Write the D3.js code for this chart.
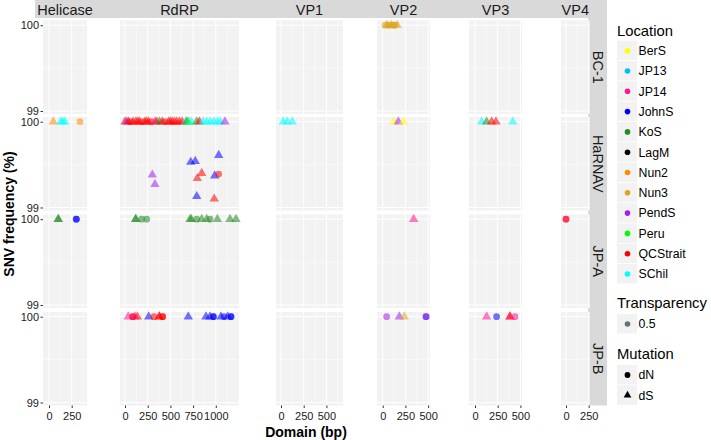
<!DOCTYPE html>
<html>
<head>
<meta charset="utf-8">
<script src="https://cdn.jsdelivr.net/npm/d3@7"></script>
<style>
  body { margin: 0; background: #fff; }
  text { font-family: "Liberation Sans", Arial, sans-serif; }
</style>
</head>
<body>
<svg id="chart" width="711" height="440"></svg>
<script>
// facets
const domains = ['Helicase', 'RdRP', 'VP1', 'VP2', 'VP3', 'VP4'];
const viruses = ['BC-1', 'HaRNAV', 'JP-A', 'JP-B'];
const xDomains = [[-66, 418], [-55, 1255], [-55, 683], [-63, 521], [-66, 518], [-55, 260]];
const xTicks = [[0, 250], [0, 250, 500, 750, 1000], [0, 250, 500], [0, 250, 500], [0, 250, 500], [0, 250]];
const yTicks = [99, 100];
const yDomain = [98.965, 100.055];

const locations = ['BerS', 'JP13', 'JP14', 'JohnS', 'KoS', 'LagM', 'Nun2', 'Nun3', 'PendS', 'Peru', 'QCStrait', 'SChil'];
const locColors = ['#FFFF00', '#00BFFF', '#FF1493', '#0000FF', '#228B22', '#000000', '#FF8C00', '#DAA520', '#A020F0', '#00FF00', '#FF0000', '#00FFFF'];
const mutations = ['dN', 'dS'];

// points: [domain, location, mutation, position (bp), SNV frequency (%)]
const bc1Points = [
  ['VP2', 'Nun3', 'dN', 25, 100], ['VP2', 'Nun3', 'dS', 45, 100], ['VP2', 'Nun3', 'dN', 70, 100],
  ['VP2', 'Nun3', 'dS', 95, 100], ['VP2', 'Nun3', 'dN', 115, 100], ['VP2', 'Nun3', 'dN', 140, 100],
  ['VP2', 'Nun3', 'dS', 160, 100], ['VP2', 'Nun3', 'dN', 60, 100], ['VP2', 'Nun3', 'dN', 125, 100]
];
const harnavPoints = [
  ['Helicase', 'Nun2', 'dS', 47, 100], ['Helicase', 'SChil', 'dS', 129, 100], ['Helicase', 'SChil', 'dS', 176, 100],
  ['Helicase', 'SChil', 'dS', 150, 100], ['Helicase', 'Nun2', 'dN', 341, 100],
  ['RdRP', 'QCStrait', 'dS', 0, 100], ['RdRP', 'PendS', 'dS', 20, 100], ['RdRP', 'QCStrait', 'dS', 40, 100],
  ['RdRP', 'QCStrait', 'dN', 60, 100], ['RdRP', 'QCStrait', 'dS', 90, 100], ['RdRP', 'QCStrait', 'dS', 120, 100],
  ['RdRP', 'QCStrait', 'dS', 140, 100], ['RdRP', 'QCStrait', 'dS', 160, 100], ['RdRP', 'QCStrait', 'dN', 190, 100],
  ['RdRP', 'QCStrait', 'dS', 220, 100], ['RdRP', 'QCStrait', 'dS', 240, 100], ['RdRP', 'QCStrait', 'dS', 260, 100],
  ['RdRP', 'QCStrait', 'dN', 290, 100], ['RdRP', 'JP14', 'dS', 330, 100], ['RdRP', 'QCStrait', 'dS', 350, 100],
  ['RdRP', 'KoS', 'dS', 380, 100], ['RdRP', 'QCStrait', 'dS', 410, 100], ['RdRP', 'QCStrait', 'dN', 440, 100],
  ['RdRP', 'QCStrait', 'dS', 480, 100], ['RdRP', 'QCStrait', 'dS', 500, 100], ['RdRP', 'QCStrait', 'dS', 520, 100],
  ['RdRP', 'QCStrait', 'dS', 545, 100], ['RdRP', 'QCStrait', 'dS', 570, 100], ['RdRP', 'QCStrait', 'dS', 600, 100],
  ['RdRP', 'QCStrait', 'dS', 630, 100], ['RdRP', 'SChil', 'dS', 670, 100], ['RdRP', 'KoS', 'dS', 680, 100],
  ['RdRP', 'Peru', 'dS', 700, 100], ['RdRP', 'SChil', 'dS', 730, 100], ['RdRP', 'KoS', 'dS', 790, 100],
  ['RdRP', 'QCStrait', 'dS', 820, 100], ['RdRP', 'SChil', 'dS', 860, 100], ['RdRP', 'SChil', 'dS', 900, 100],
  ['RdRP', 'SChil', 'dS', 940, 100], ['RdRP', 'SChil', 'dS', 980, 100], ['RdRP', 'SChil', 'dS', 1020, 100],
  ['RdRP', 'SChil', 'dS', 1050, 100], ['RdRP', 'PendS', 'dS', 1100, 100],
  ['RdRP', 'PendS', 'dS', 301, 99.38], ['RdRP', 'PendS', 'dS', 330, 99.27],
  ['RdRP', 'JohnS', 'dS', 724, 99.53], ['RdRP', 'JohnS', 'dS', 774, 99.54], ['RdRP', 'JohnS', 'dS', 1032, 99.61],
  ['RdRP', 'JohnS', 'dS', 988, 99.37], ['RdRP', 'JohnS', 'dS', 790, 99.13],
  ['RdRP', 'QCStrait', 'dS', 845, 99.40], ['RdRP', 'QCStrait', 'dS', 796, 99.34], ['RdRP', 'QCStrait', 'dS', 983, 99.10],
  ['RdRP', 'QCStrait', 'dN', 1032, 99.39],
  ['VP1', 'SChil', 'dS', 25, 100], ['VP1', 'SChil', 'dS', 69, 100], ['VP1', 'SChil', 'dS', 124, 100],
  ['VP2', 'BerS', 'dS', 124, 100], ['VP2', 'PendS', 'dS', 172, 100], ['VP2', 'BerS', 'dS', 227, 100],
  ['VP3', 'SChil', 'dS', 73, 100], ['VP3', 'KoS', 'dS', 128, 100], ['VP3', 'QCStrait', 'dS', 183, 100],
  ['VP3', 'QCStrait', 'dS', 231, 100], ['VP3', 'SChil', 'dS', 416, 100]
];
const jpaPoints = [
  ['Helicase', 'KoS', 'dS', 102, 100], ['Helicase', 'KoS', 'dS', 102, 100], ['Helicase', 'JohnS', 'dN', 301, 100],
  ['Helicase', 'JohnS', 'dN', 301, 100],
  ['RdRP', 'KoS', 'dS', 118, 100], ['RdRP', 'KoS', 'dS', 118, 100], ['RdRP', 'KoS', 'dN', 184, 100], ['RdRP', 'KoS', 'dN', 239, 100],
  ['RdRP', 'KoS', 'dS', 716, 100], ['RdRP', 'KoS', 'dS', 730, 100], ['RdRP', 'KoS', 'dN', 790, 100], ['RdRP', 'KoS', 'dS', 845, 100],
  ['RdRP', 'KoS', 'dS', 900, 100], ['RdRP', 'KoS', 'dN', 936, 100], ['RdRP', 'KoS', 'dS', 1017, 100],
  ['RdRP', 'KoS', 'dS', 1156, 100], ['RdRP', 'KoS', 'dS', 1222, 100],
  ['VP2', 'JP14', 'dS', 341, 100],
  ['VP4', 'JP14', 'dN', 0, 100], ['VP4', 'QCStrait', 'dN', 0, 100]
];
const jpbPoints = [
  ['RdRP', 'JP14', 'dS', 36, 100], ['RdRP', 'JP14', 'dN', 85, 100], ['RdRP', 'QCStrait', 'dN', 85, 100],
  ['RdRP', 'JP14', 'dS', 110, 100], ['RdRP', 'QCStrait', 'dS', 136, 100], ['RdRP', 'JohnS', 'dS', 261, 100],
  ['RdRP', 'QCStrait', 'dN', 319, 100], ['RdRP', 'QCStrait', 'dS', 378, 100], ['RdRP', 'QCStrait', 'dS', 378, 100],
  ['RdRP', 'QCStrait', 'dN', 415, 100], ['RdRP', 'QCStrait', 'dN', 415, 100], ['RdRP', 'JohnS', 'dS', 697, 100],
  ['RdRP', 'JohnS', 'dS', 892, 100], ['RdRP', 'JohnS', 'dS', 936, 100], ['RdRP', 'JohnS', 'dN', 973, 100],
  ['RdRP', 'JohnS', 'dN', 973, 100], ['RdRP', 'JohnS', 'dS', 1057, 100], ['RdRP', 'JohnS', 'dN', 1090, 100],
  ['RdRP', 'JohnS', 'dS', 1131, 100], ['RdRP', 'JohnS', 'dN', 1167, 100], ['RdRP', 'JohnS', 'dN', 1167, 100],
  ['VP2', 'PendS', 'dN', 43, 100], ['VP2', 'PendS', 'dS', 183, 100], ['VP2', 'Nun3', 'dS', 238, 100],
  ['VP2', 'JohnS', 'dN', 477, 100], ['VP2', 'PendS', 'dN', 477, 100],
  ['VP3', 'JP14', 'dS', 128, 100], ['VP3', 'JohnS', 'dN', 238, 100], ['VP3', 'JP14', 'dS', 385, 100],
  ['VP3', 'QCStrait', 'dS', 385, 100], ['VP3', 'JP14', 'dN', 440, 100]
];
const pointsByVirus = [bc1Points, harnavPoints, jpaPoints, jpbPoints];

// layout
const pxPerBp = 0.0908;
const panelLeft = [43, 120, 276, 377, 469, 561];
const panelTop = [20.5, 117, 214.5, 312];
const panelH = 93.5;
const pointAlpha = 0.55;
const fontTick = 11;

const svg = d3.select('#chart');
const color = d3.scaleOrdinal(locations, locColors);
const shape = d3.scaleOrdinal(mutations, [d3.symbolCircle, d3.symbolTriangle]);
const shapeSize = d3.scaleOrdinal(mutations, [36, 38]);

const xScales = xDomains.map((dom, i) => d3.scaleLinear()
  .domain(dom)
  .range([panelLeft[i], panelLeft[i] + (dom[1] - dom[0]) * pxPerBp]));
const yScales = panelTop.map(t => d3.scaleLinear().domain(yDomain).range([t + panelH, t]));

// strips
const stripRight = 588;
svg.append('rect').attr('x', 35).attr('y', 0).attr('width', stripRight - 35).attr('height', 18).attr('fill', '#D9D9D9');
svg.append('rect').attr('x', stripRight).attr('y', 0).attr('width', 19).attr('height', panelTop[3] + panelH).attr('fill', '#D9D9D9');

domains.forEach((d, i) => {
  const r = xScales[i].range();
  svg.append('text').attr('x', (r[0] + r[1]) / 2).attr('y', 14.5)
    .attr('text-anchor', 'middle').attr('font-size', 14.5).attr('fill', '#1A1A1A').text(d);
});
viruses.forEach((v, j) => {
  const cy = panelTop[j] + panelH / 2;
  svg.append('text').attr('transform', `translate(${stripRight + 4.5},${cy}) rotate(90)`)
    .attr('text-anchor', 'middle').attr('font-size', 14.5).attr('fill', '#1A1A1A').text(v);
});

// panels
viruses.forEach((v, j) => {
  const y = yScales[j];
  domains.forEach((d, i) => {
    const x = xScales[i];
    const [x0, x1] = x.range();
    const g = svg.append('g');
    g.append('rect').attr('x', x0).attr('y', panelTop[j]).attr('width', x1 - x0).attr('height', panelH).attr('fill', '#F2F2F2');
    const minor = xTicks[i].slice(0, -1).map((t, k) => (t + xTicks[i][k + 1]) / 2);
    minor.push(xTicks[i][0] - 125, xTicks[i][xTicks[i].length - 1] + 125);
    minor.filter(t => t > x.domain()[0] && t < x.domain()[1]).forEach(t => {
      g.append('line').attr('x1', x(t)).attr('x2', x(t)).attr('y1', panelTop[j]).attr('y2', panelTop[j] + panelH)
        .attr('stroke', '#fff').attr('stroke-width', 0.5);
    });
    g.append('line').attr('x1', x0).attr('x2', x1).attr('y1', y(99.5)).attr('y2', y(99.5)).attr('stroke', '#fff').attr('stroke-width', 0.5);
    xTicks[i].forEach(t => {
      g.append('line').attr('x1', x(t)).attr('x2', x(t)).attr('y1', panelTop[j]).attr('y2', panelTop[j] + panelH)
        .attr('stroke', '#fff').attr('stroke-width', 1);
    });
    yTicks.forEach(t => {
      g.append('line').attr('x1', x0).attr('x2', x1).attr('y1', y(t)).attr('y2', y(t)).attr('stroke', '#fff').attr('stroke-width', 1);
    });
  });

  // y axis
  const ax = svg.append('g').attr('transform', `translate(${panelLeft[0]},0)`)
    .call(d3.axisLeft(y).tickValues(yTicks).tickSize(2.5).tickPadding(1.5).tickFormat(d3.format('d')));
  ax.select('.domain').remove();
  ax.selectAll('line').attr('stroke', '#333');
  ax.selectAll('text').attr('font-size', fontTick).attr('fill', '#1A1A1A').attr('font-family', '"Liberation Sans", Arial, sans-serif');

  // points
  const pts = pointsByVirus[j];
  svg.append('g').selectAll('path').data(pts).join('path')
    .attr('transform', p => `translate(${xScales[domains.indexOf(p[0])](p[3])},${y(p[4])})`)
    .attr('d', p => d3.symbol(shape(p[2]), shapeSize(p[2]))())
    .attr('fill', p => color(p[1]))
    .attr('fill-opacity', pointAlpha);
});

// x axes
domains.forEach((d, i) => {
  const ax = svg.append('g').attr('transform', `translate(0,${panelTop[3] + panelH})`)
    .call(d3.axisBottom(xScales[i]).tickValues(xTicks[i]).tickSize(2.5).tickPadding(4).tickFormat(d3.format('d')));
  ax.select('.domain').remove();
  ax.selectAll('line').attr('stroke', '#333');
  ax.selectAll('text').attr('font-size', fontTick).attr('fill', '#1A1A1A').attr('font-family', '"Liberation Sans", Arial, sans-serif');
});

// axis titles
svg.append('text').attr('x', 306).attr('y', 437).attr('text-anchor', 'middle')
  .attr('font-size', 14).attr('font-weight', 'bold').text('Domain (bp)');
svg.append('text').attr('transform', `translate(14,214) rotate(-90)`)
  .attr('text-anchor', 'middle').attr('font-size', 14).attr('font-weight', 'bold').text('SNV frequency (%)');

// legends
const lg = svg.append('g').attr('transform', 'translate(617,0)');
const keyW = 20, keyH = 20.3;
lg.append('text').attr('x', 0).attr('y', 36).attr('font-size', 14.8).text('Location');
locations.forEach((loc, k) => {
  const cy = 50.7 + k * keyH;
  lg.append('rect').attr('x', 0).attr('y', cy - 10).attr('width', keyW).attr('height', 19.5).attr('fill', '#F2F2F2');
  lg.append('circle').attr('cx', 10.5).attr('cy', cy).attr('r', 2.8).attr('fill', color(loc));
  lg.append('text').attr('x', 21.5).attr('y', cy + 4.3).attr('font-size', 12.3).text(loc);
});
lg.append('text').attr('x', 0).attr('y', 308).attr('font-size', 14.8).text('Transparency');
lg.append('rect').attr('x', 0).attr('y', 314).attr('width', keyW).attr('height', 19.5).attr('fill', '#F2F2F2');
lg.append('circle').attr('cx', 10.5).attr('cy', 324).attr('r', 2.8).attr('fill', '#000').attr('fill-opacity', pointAlpha);
lg.append('text').attr('x', 21.5).attr('y', 328.3).attr('font-size', 12.3).text('0.5');
lg.append('text').attr('x', 0).attr('y', 359).attr('font-size', 14.8).text('Mutation');
mutations.forEach((m, k) => {
  const cy = 375 + k * keyH;
  lg.append('rect').attr('x', 0).attr('y', cy - 10).attr('width', keyW).attr('height', 19.5).attr('fill', '#F2F2F2');
  lg.append('path').attr('transform', `translate(10.5,${cy})`).attr('d', d3.symbol(shape(m), 26)()).attr('fill', '#000');
  lg.append('text').attr('x', 21.5).attr('y', cy + 4.3).attr('font-size', 12.3).text(m);
});
</script>
</body>
</html>
